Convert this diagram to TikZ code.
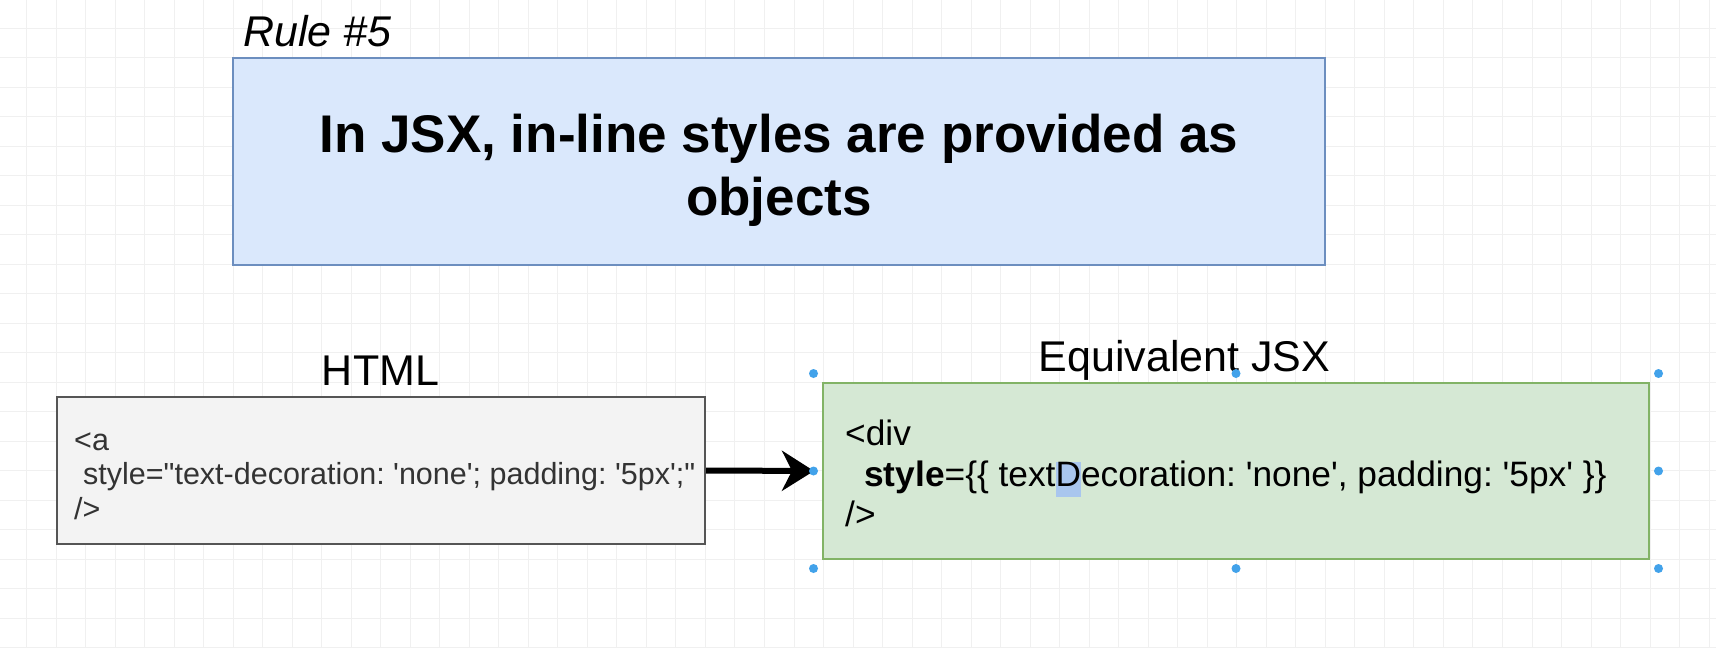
\documentclass[tikz,border=0pt]{standalone}
\usepackage{fontspec}
\setmainfont{Liberation Sans}[Ligatures=TeXOff]
\usetikzlibrary{arrows.meta}
\definecolor{bluefill}{HTML}{DAE8FC}
\definecolor{bluedraw}{HTML}{6C8EBF}
\definecolor{grayfill}{HTML}{F3F3F3}
\definecolor{graydraw}{HTML}{555555}
\definecolor{greenfill}{HTML}{D5E8D4}
\definecolor{greendraw}{HTML}{82B366}
\definecolor{gridc}{HTML}{F0F0F0}
\definecolor{handlec}{HTML}{42A2EA}
\definecolor{selc}{HTML}{A9C6EE}
\definecolor{codegray}{HTML}{333333}
\newcommand\topstrut{\rule{0pt}{0.8em}}
\newcommand\selhl[1]{\setbox0\hbox{#1}\rlap{\color{selc}\rule[-11pt]{\wd0}{35pt}}\box0}
\frenchspacing
\tikzset{
  rulebox/.style={draw=bluedraw, fill=bluefill, line width=2pt, inner sep=0pt},
  htmlbox/.style={draw=graydraw, fill=grayfill, line width=2pt, inner sep=0pt},
  jsxbox/.style={draw=greendraw, fill=greenfill, line width=2pt, inner sep=0pt},
  titletext/.style={inner sep=0pt, align=center, font=\fontsize{53}{63}\selectfont\bfseries},
  labeltext/.style={inner sep=0pt, font=\fontsize{43}{50}\selectfont},
  htmlcode/.style={inner sep=0pt, align=left, text=codegray, font=\fontsize{30.5}{34.5}\selectfont},
  jsxcode/.style={inner sep=0pt, align=left, text=black, font=\fontsize{35.3}{40.5}\selectfont},
  bigarrow/.style={line width=6pt, -{Stealth[length=32pt, width=40pt, inset=10pt]}},
  handle/.style={fill=handlec},
}
\begin{document}
\begin{tikzpicture}[x=1pt, y=-1pt]
\useasboundingbox (0,0) rectangle (1716,648);
\fill[white] (0,0) rectangle (1716,648);
\foreach \i in {0,...,58} \draw[gridc, line width=1pt] ({26.5+29.52*\i},0) -- ++(0,648);
\foreach \j in {0,...,21} \draw[gridc, line width=1pt] (0,{28+29.52*\j}) -- ++(1716,0);

\node[rulebox, minimum width=1092pt, minimum height=207pt] (rule) at (779,161.5) {};
\node[titletext, anchor=north] (title) at (779,109.6) {\topstrut In JSX, in-line styles are provided as\\objects};
\node[labeltext, anchor=base west, font=\fontsize{43}{50}\selectfont\itshape] (ruleno) at (243,46.5) {Rule \#5};

\node[htmlbox, minimum width=648pt, minimum height=147pt] (html) at (381,470.5) {};
\node[labeltext, anchor=base] (htmllbl) at (380.5,385) {HTML};
\node[htmlcode, anchor=north west] (htmlcode) at (74,425.6) {\topstrut<a\\\hspace*{9pt}style="text-decoration: 'none'; padding: '5px';"\\/>};

\node[jsxbox, minimum width=826pt, minimum height=176pt] (jsx) at (1236,471) {};
\node[labeltext, anchor=base] (jsxlbl) at (1184.5,371) {Equivalent JSX};
\node[jsxcode, anchor=north west] (jsxcode) at (845,417.5) {\topstrut<div\\\hspace*{19pt}\textbf{style}=\{\{ text\selhl{D}ecoration: 'none', padding: '5px' \}\}\\/>};

\draw[bigarrow, shorten >=8pt] (html.east) -- (jsx.west);

\foreach \hx/\hy in {813.5/373.5, 1236/373.5, 1658.5/373.5, 813.5/471, 1658.5/471, 813.5/568.5, 1236/568.5, 1658.5/568.5}
  \fill[handle] (\hx,\hy) circle (4.5);
\end{tikzpicture}
\end{document}
